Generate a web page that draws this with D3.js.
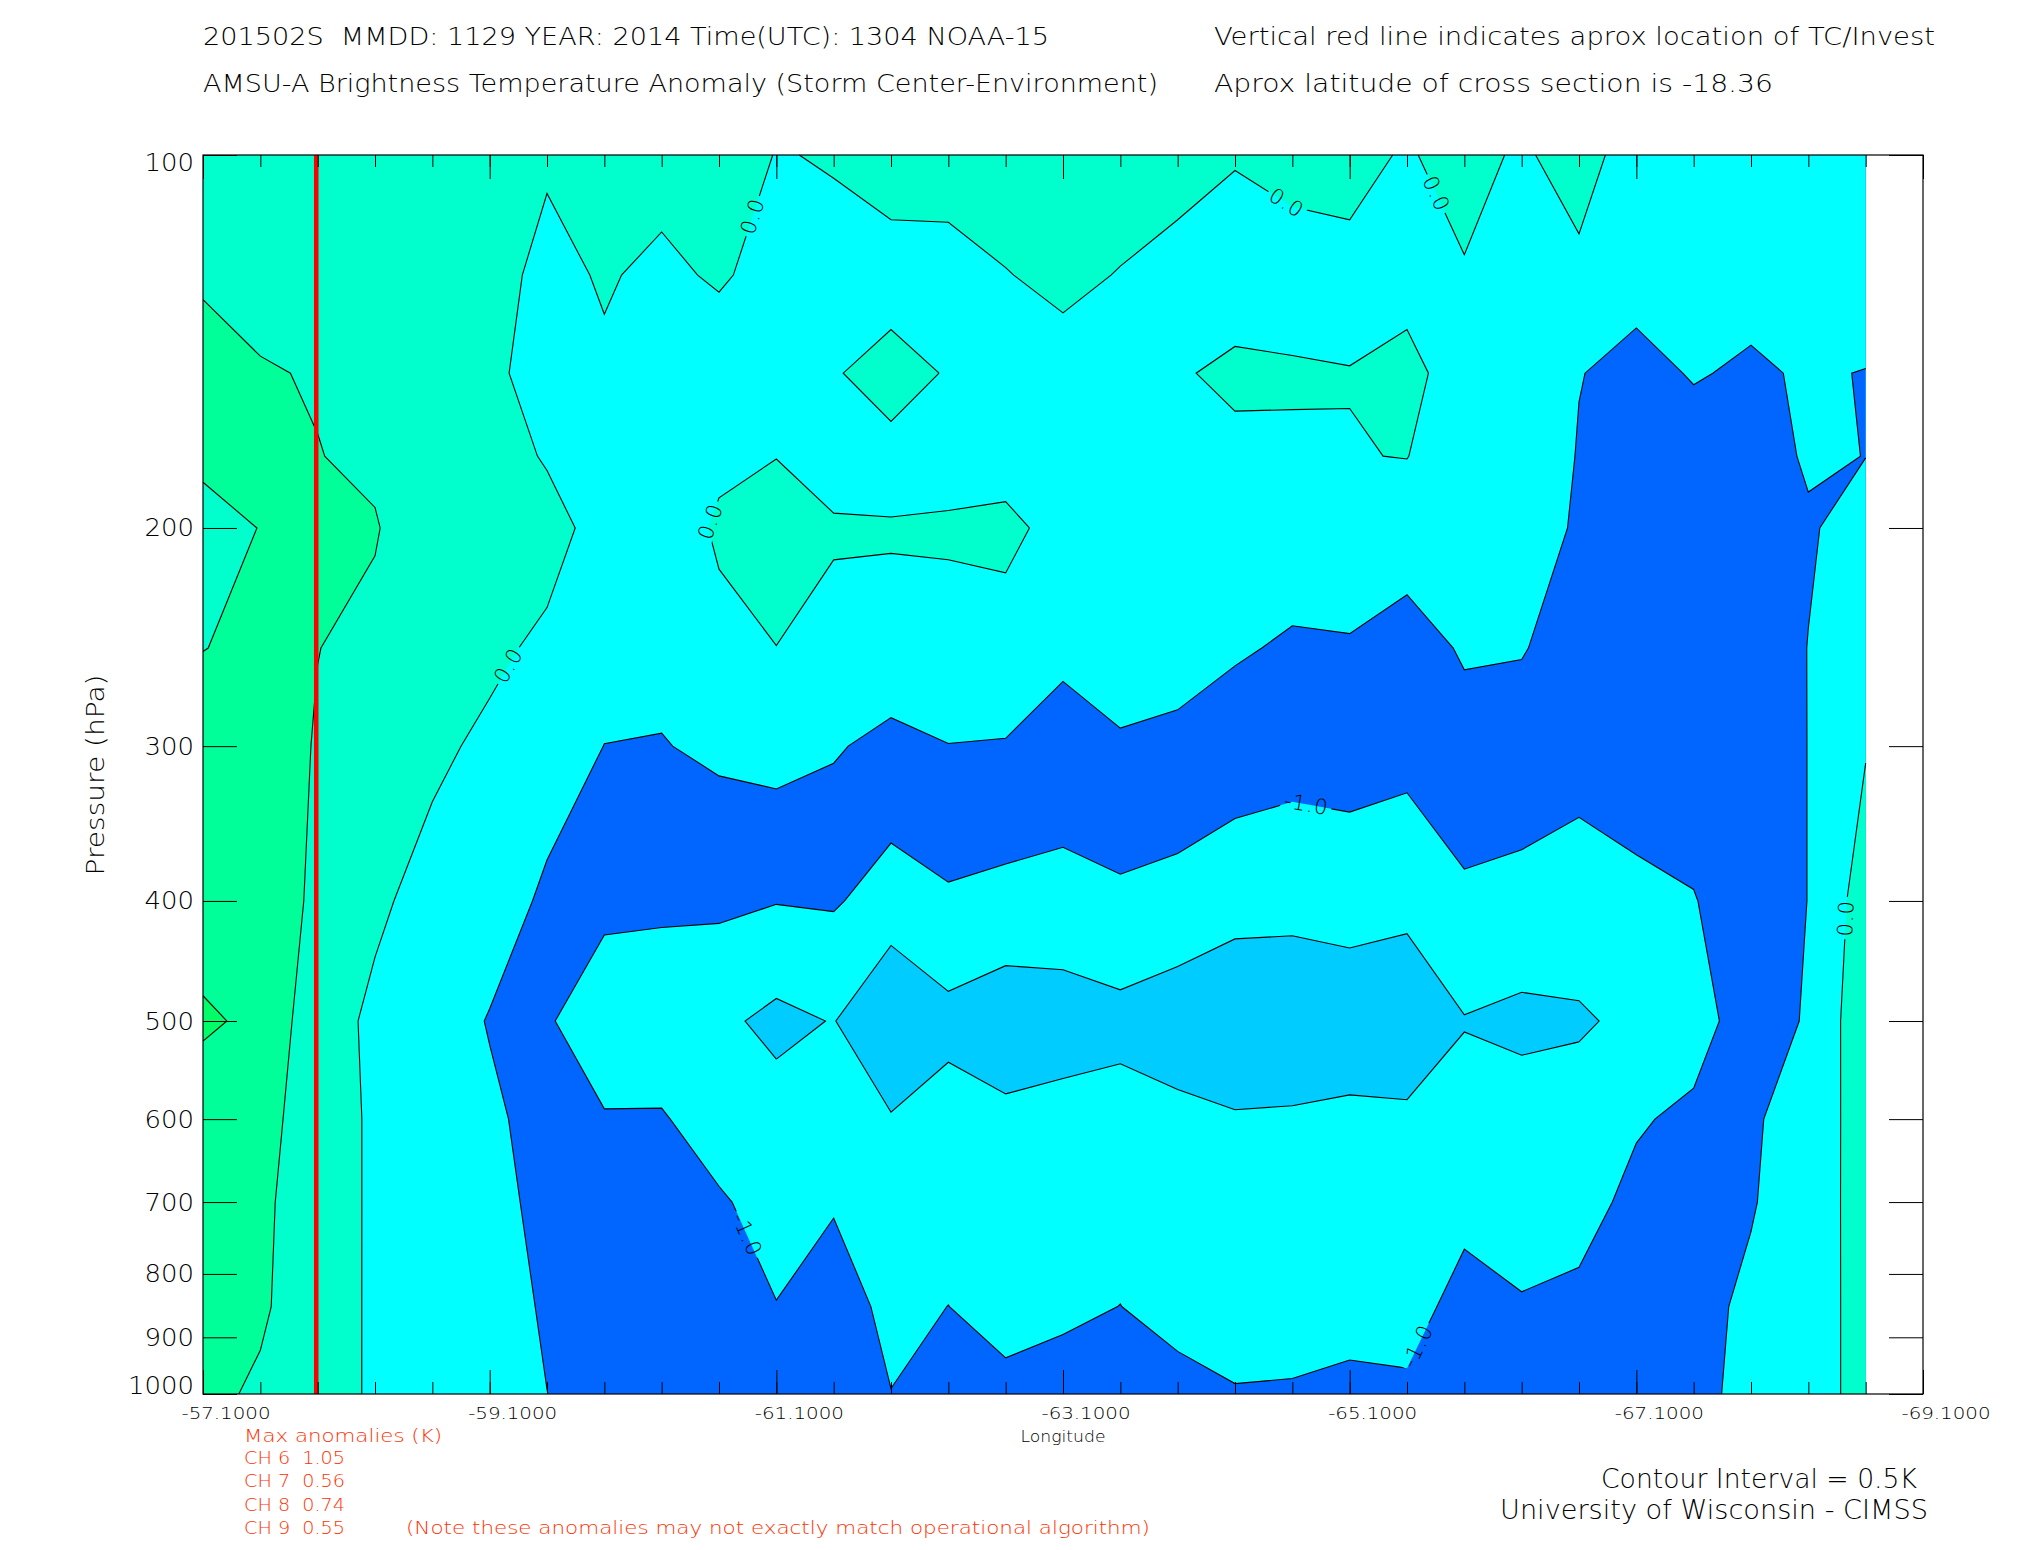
<!DOCTYPE html>
<html><head><meta charset="utf-8">
<script src="https://cdn.jsdelivr.net/npm/d3@7"></script>
<style>
body{margin:0;background:#fff}
text{font-family:"DejaVu Sans",sans-serif;font-weight:200;white-space:pre}
</style>
</head><body>
<svg id="chart" width="2025" height="1550"></svg>
<script>
// ---------------- data ----------------
const longitudes = [-57.1,-57.5,-57.9,-58.3,-58.7,-59.1,-59.5,-59.9,-60.3,-60.7,-61.1,-61.5,-61.9,-62.3,-62.7,
                    -63.1,-63.5,-63.9,-64.3,-64.7,-65.1,-65.5,-65.9,-66.3,-66.7,-67.1,-67.5,-67.9,-68.3,-68.7];
const pressureLevels = [100,125,150,175,200,250,300,400,500,600,700,850,1000];

// brightness temperature anomaly (K), one array per pressure level, west->east along longitudes
const anom100  = [0.30,0.25,0.25,0.25,0.2,0.15,0.05,0.1,0.15,0.3,-0.02,0.03,0.292,0.15,0.3,0.3,0.3,0.15,0.03,0.1,0.15,-0.05,0.206,-0.087,0.271,-0.318,-0.3,-0.3,-0.25,-0.2];
const anom125  = [0.44,0.40,0.35,0.32,0.25,0.14,-0.106,0.036,-0.084,0.05,-0.15,-0.125,-0.25,-0.118,-0.02,0.123,-0.024,-0.128,-0.203,-0.132,-0.128,-0.2,-0.042,-0.15,-0.1415,-0.4,-0.35,-0.4,-0.35,-0.3];
const anom150  = [0.68,0.521,0.481,0.374,0.28,0.12,-0.234,-0.054,-0.2,-0.237,-0.25,-0.04,0.2,-0.0387,-0.15,-0.196,-0.25,-0.036,0.076,0.029,0.0104,0.16,-0.268,-0.22,-0.49,-0.5855,-0.48,-0.54,-0.469,-0.51];
const anom175  = [0.60,0.55,0.507,0.45,0.29,0.15,-0.03,-0.1,-0.22,-0.08,-0.01,-0.1,-0.144,-0.15,-0.1,-0.15,-0.25,-0.25,-0.09,-0.037,-0.014,0.01,-0.3,-0.25,-0.519,-0.7,-0.624,-0.7,-0.45,-0.505];
const anom200  = [0.325,0.511,0.53,0.52,0.298,0.2,0.12,-0.124,-0.25,0.058,0.24,0.026,0.026,0.048,0.058,-0.082,-0.25,-0.3,-0.2,-0.25,-0.2,-0.24,-0.35,-0.3,-0.55,-0.75,-0.7,-0.8,-0.55,-0.3];
const anom250  = [0.495,0.55,0.504,0.434,0.2,0.063,-0.061,-0.3,-0.35,-0.111,-0.005,-0.072,-0.097,-0.133,-0.097,-0.35,-0.3,-0.35,-0.45,-0.557,-0.541,-0.708,-0.45,-0.48,-0.65,-0.8,-0.75,-0.85,-0.49,-0.2];
const anom300  = [0.64,0.65,0.48,0.30,0.06,-0.06,-0.25,-0.505,-0.523,-0.403,-0.316,-0.444,-0.665,-0.51,-0.535,-0.791,-0.545,-0.588,-0.725,-0.8,-0.75,-0.85,-0.675,-0.652,-0.8,-0.85,-0.9,-0.9,-0.49,-0.0295];
const anom400  = [0.85,0.80,0.404,0.0526,-0.107,-0.235,-0.59,-0.881,-0.901,-0.908,-0.982,-0.953,-1.2,-1.068,-1.146,-1.111,-1.095,-1.182,-1.313,-1.356,-1.337,-1.348,-1.084,-1.172,-1.235,-1.064,-1.008,-0.9,-0.49,0.241];
const anom500  = [1.04,0.944,0.143,-0.06,-0.215,-0.53,-0.95,-1.3,-1.35,-1.4,-1.62,-1.48,-2.01,-1.642,-1.803,-1.79,-1.642,-1.765,-1.905,-1.853,-1.753,-1.905,-1.523,-1.603,-1.554,-1.40,-1.2,-0.754,-0.452,0.351];
const anom600  = [0.844,0.70,0.195,-0.058,-0.2,-0.407,-0.69,-0.965,-0.956,-1.25,-1.311,-1.3,-1.461,-1.304,-1.395,-1.295,-1.316,-1.385,-1.4575,-1.444,-1.417,-1.4,-1.318,-1.308,-1.30,-1.044,-0.908,-0.6,-0.15,0.116];
const anom700  = [0.80,0.62,0.158,-0.047,-0.2,-0.35,-0.632,-0.8,-0.8,-0.941,-1.2,-1.05,-1.3,-1.25,-1.3,-1.25,-1.2,-1.3,-1.35,-1.35,-1.3,-1.3,-1.15,-1.2,-1.15,-0.892,-0.75,-0.55,-0.1,0.078];
const anom850  = [0.70,0.56,0.244,-0.073,-0.18,-0.3,-0.552,-0.75,-0.72,-0.75,-0.987,-0.723,-1.15,-0.996,-1.2,-1.1,-0.995,-1.2,-1.2,-1.2,-1.2,-1.2,-0.817,-0.967,-0.91,-0.8,-0.7,-0.373,-0.15,0.116];
const anom1000 = [0.60,0.44,0.20,-0.06,-0.15,-0.28,-0.497,-0.7,-0.7,-0.7,-0.8,-0.7,-0.99,-0.85,-0.859,-0.788,-0.85,-0.81,-0.973,-0.957,-0.873,-0.916,-0.75,-0.8,-0.8,-0.75,-0.6,-0.395,-0.15,0.116];

const contourLevels = [-1.5,-1.0,-0.5,0.0,0.5,1.0];
// fill colour for: below first level, then above each level
const bandColors = ["#00ccff","#00ffff","#0066ff","#00ffff","#00ffcc","#00ff99","#00ff66"];

// contour labels: approximate position (lon, hPa) and level
const labelLons   = [-60.87,-64.67,-65.70,-60.55,-59.23,-64.80,-60.89,-65.55,-68.57];
const labelPress  = [111.4, 108.8, 107.5, 195.9, 258.2, 332.9, 744, 912, 413];
const labelLevels = [0.0,   0.0,   0.0,   0.0,   0.0,  -1.0,  -1.0, -1.0, 0.0];

const xTickValues = [-57.1,-59.1,-61.1,-63.1,-65.1,-67.1,-69.1];
const yTickValues = [100,200,300,400,500,600,700,800,900,1000];
const tcLongitude = -57.89;
const maxAnomChannels = ["CH 6","CH 7","CH 8","CH 9"];
const maxAnomValues = [1.05,0.56,0.74,0.55];

// ---------------- drawing ----------------
const svg = d3.select("#chart");
const L = 203, R = 1923, T = 155, B = 1394;
const x = d3.scaleLinear().domain([-57.1,-69.1]).range([L,R]);
const y = d3.scaleLog().domain([100,1000]).range([T,B]);

const grid = [anom100,anom125,anom150,anom175,anom200,anom250,anom300,anom400,anom500,anom600,anom700,anom850,anom1000];
const n = longitudes.length, m = pressureLevels.length;
const values = grid.flat();
const colX = longitudes.map(x), rowY = pressureLevels.map(y);

function interp(arr, c){
  const u = Math.max(0, Math.min(arr.length-1, c-0.5));
  const i = Math.min(arr.length-2, Math.floor(u));
  return arr[i] + (u-i)*(arr[i+1]-arr[i]);
}
const gx = c => interp(colX, c), gy = c => interp(rowY, c);

const contours = d3.contours().size([n,m]).thresholds(contourLevels)(values);

const gFill = svg.append("g");
gFill.append("rect").attr("x",colX[0]).attr("y",rowY[0])
  .attr("width",colX[n-1]-colX[0]).attr("height",rowY[m-1]-rowY[0]).attr("fill",bandColors[0]);
contours.forEach((c,k)=>{
  const d = c.coordinates.map(poly=>poly.map(ring=>"M"+ring.map(p=>gx(p[0]).toFixed(2)+","+gy(p[1]).toFixed(2)).join("L")+"Z").join("")).join("");
  gFill.append("path").attr("d",d).attr("fill",bandColors[k+1]).attr("fill-rule","evenodd");
});

// contour lines (skip segments lying on the data boundary)
function onBoundary(a,b){
  const lo=0.5, hx=n-0.5, hy=m-0.5;
  return (a[0]<=lo&&b[0]<=lo)||(a[0]>=hx&&b[0]>=hx)||(a[1]<=lo&&b[1]<=lo)||(a[1]>=hy&&b[1]>=hy);
}
const defs = svg.append("defs");
const mask = defs.append("mask").attr("id","lblmask").attr("maskUnits","userSpaceOnUse")
  .attr("x",0).attr("y",0).attr("width",2025).attr("height",1550);
mask.append("rect").attr("x",0).attr("y",0).attr("width",2025).attr("height",1550).attr("fill","#fff");

const gLines = svg.append("g").attr("mask","url(#lblmask)");
const lineSegs = [];
contours.forEach((c,k)=>{
  let d = ""; const segs = [];
  c.coordinates.forEach(poly=>poly.forEach(ring=>{
    let pen=false;
    for(let i=0;i<ring.length-1;i++){
      const a=ring[i], b=ring[i+1];
      if(onBoundary(a,b)){pen=false;continue;}
      const A=[gx(a[0]),gy(a[1])], Bp=[gx(b[0]),gy(b[1])];
      if(!pen){d+="M"+A[0].toFixed(2)+","+A[1].toFixed(2);pen=true;}
      d+="L"+Bp[0].toFixed(2)+","+Bp[1].toFixed(2);
      segs.push([A,Bp]);
    }
  }));
  lineSegs[k]=segs;
  gLines.append("path").attr("d",d).attr("fill","none").attr("stroke","#000").attr("stroke-width",1.1);
});

// contour labels
const gLab = svg.append("g");
labelLons.forEach((lon,i)=>{
  const k = contourLevels.indexOf(labelLevels[i]);
  const px=x(lon), py=y(labelPress[i]);
  let best=null, bd=Infinity;
  lineSegs[k].forEach(([A,Bp])=>{
    const dx=Bp[0]-A[0], dy=Bp[1]-A[1], l2=dx*dx+dy*dy; if(!l2) return;
    let t=((px-A[0])*dx+(py-A[1])*dy)/l2; t=Math.max(0,Math.min(1,t));
    const qx=A[0]+t*dx, qy=A[1]+t*dy, dd=(qx-px)**2+(qy-py)**2;
    if(dd<bd){bd=dd;best={qx,qy,ang:Math.atan2(dy,dx)*180/Math.PI};}
  });
  let a=best.ang; if(a>=90)a-=180; if(a<-90)a+=180;
  const txt = labelLevels[i].toFixed(1);
  const t = gLab.append("text").attr("transform",`translate(${best.qx},${best.qy}) rotate(${a})`)
    .attr("text-anchor","middle").attr("dominant-baseline","central").attr("font-size",21)
    .attr("letter-spacing",1).text(txt);
  const w = t.node().getComputedTextLength();
  mask.append("rect").attr("x",-w/2-3).attr("y",-8).attr("width",w+6).attr("height",16)
    .attr("fill","#000").attr("transform",`translate(${best.qx},${best.qy}) rotate(${a})`);
});

// TC location
svg.append("line").attr("x1",x(tcLongitude)).attr("x2",x(tcLongitude)).attr("y1",T).attr("y2",B)
  .attr("stroke","#ff0000").attr("stroke-width",4.5);

// axes
const minorTicks = d3.range(0,31).map(i=>-57.1-0.4*i);
function styleAxis(g){g.select(".domain").remove();g.selectAll("line").attr("stroke","#000").attr("stroke-width",1);g.selectAll("text").remove();}
svg.append("g").attr("transform",`translate(0,${B})`).call(d3.axisBottom(x).tickValues(minorTicks).tickSize(-12)).call(styleAxis);
svg.append("g").attr("transform",`translate(0,${B})`).call(d3.axisBottom(x).tickValues(xTickValues).tickSize(-24)).call(styleAxis);
svg.append("g").attr("transform",`translate(0,${T})`).call(d3.axisTop(x).tickValues(minorTicks).tickSize(-12)).call(styleAxis);
svg.append("g").attr("transform",`translate(0,${T})`).call(d3.axisTop(x).tickValues(xTickValues).tickSize(-24)).call(styleAxis);
svg.append("g").attr("transform",`translate(${L},0)`).call(d3.axisLeft(y).tickValues(yTickValues).tickSize(-34)).call(styleAxis);
svg.append("g").attr("transform",`translate(${R},0)`).call(d3.axisRight(y).tickValues(yTickValues).tickSize(-34)).call(styleAxis);
svg.append("rect").attr("x",L).attr("y",T).attr("width",R-L).attr("height",B-T)
  .attr("fill","none").attr("stroke","#000").attr("stroke-width",1.2);

// tick labels
xTickValues.forEach(v=>{
  svg.append("text").attr("x",x(v)+23).attr("y",1419).attr("text-anchor","middle").attr("font-size",16)
    .attr("textLength",89).attr("lengthAdjust","spacingAndGlyphs").text(v.toFixed(4));
});
yTickValues.forEach((v,i)=>{
  let yy = y(v)+8.5;
  if(i===0) yy = T+16; if(i===yTickValues.length-1) yy = B;
  svg.append("text").attr("x",194).attr("y",yy).attr("text-anchor","end").attr("font-size",24)
    .attr("textLength", String(v).length*16.5).attr("lengthAdjust","spacingAndGlyphs").text(v);
});
svg.append("text").attr("transform","translate(104,775) rotate(-90)").attr("text-anchor","middle")
  .attr("font-size",24).attr("textLength",201).attr("lengthAdjust","spacingAndGlyphs").text("Pressure (hPa)");
svg.append("text").attr("x",1063).attr("y",1442).attr("text-anchor","middle").attr("font-size",16)
  .attr("textLength",85).attr("lengthAdjust","spacingAndGlyphs").text("Longitude");

// titles
function T_(txt,x0,y0,len,size){return svg.append("text").attr("x",x0).attr("y",y0).attr("font-size",size)
  .attr("textLength",len).attr("lengthAdjust","spacingAndGlyphs").text(txt);}
T_("201502S  MMDD: 1129 YEAR: 2014 Time(UTC): 1304 NOAA-15",203,45,846,24);
T_("AMSU-A Brightness Temperature Anomaly (Storm Center-Environment)",203,92,955,24);
T_("Vertical red line indicates aprox location of TC/Invest",1214,45,721,24);
T_("Aprox latitude of cross section is -18.36",1214,92,559,24);
T_("Contour Interval = 0.5K",1601,1488,316,26);
T_("University of Wisconsin - CIMSS",1500,1519,428,26);

// max anomalies (red)
const red = "#ff3000";
T_("Max anomalies (K)",244,1442,198,17).attr("fill",red);
maxAnomChannels.forEach((ch,i)=>{
  T_(ch+"  "+maxAnomValues[i].toFixed(2),244,1464+i*23.4,101,17).attr("fill",red);
});
T_("(Note these anomalies may not exactly match operational algorithm)",406,1534,744,17).attr("fill",red);
</script>
</body></html>
